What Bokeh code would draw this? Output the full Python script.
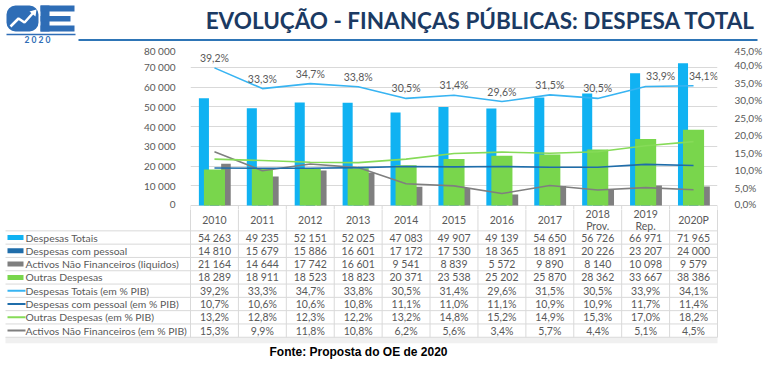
from bokeh.plotting import figure
from bokeh.models import Range1d, LinearAxis, FixedTicker, FactorRange, ColumnDataSource
from bokeh.embed import file_html
from bokeh.resources import INLINE
from bokeh.core.properties import value
from bokeh.transform import dodge

# ---------------- data ----------------
years = ["2010", "2011", "2012", "2013", "2014", "2015", "2016", "2017",
         "2018 Prov.", "2019 Rep.", "2020P"]
year_labels = ["2010", "2011", "2012", "2013", "2014", "2015", "2016", "2017",
               "2018\nProv.", "2019\nRep.", "2020P"]
desp_totais = [54263, 49235, 52151, 52025, 47083, 49907, 49139, 54650, 56726, 66971, 71965]
desp_pessoal = [14810, 15679, 15886, 16601, 17172, 17530, 18365, 18891, 20226, 23207, 24000]
activos = [21164, 14644, 17742, 16601, 9541, 8839, 5572, 9890, 8140, 10098, 9579]
outras = [18289, 18911, 18523, 18823, 20371, 23538, 25202, 25870, 28362, 33667, 38386]
pct_totais = [39.2, 33.3, 34.7, 33.8, 30.5, 31.4, 29.6, 31.5, 30.5, 33.9, 34.1]
pct_pessoal = [10.7, 10.6, 10.6, 10.8, 11.1, 11.0, 11.1, 10.9, 10.9, 11.7, 11.4]
pct_outras = [13.2, 12.8, 12.3, 12.2, 13.2, 14.8, 15.2, 14.9, 15.3, 17.0, 18.2]
pct_activos = [15.3, 9.9, 11.8, 10.8, 6.2, 5.6, 3.4, 5.7, 4.4, 5.1, 4.5]
left_ticks = [0, 10000, 20000, 30000, 40000, 50000, 60000, 70000, 80000]
right_ticks = [0, 5, 10, 15, 20, 25, 30, 35, 40, 45]

row_names = ["Despesas Totais", "Despesas com pessoal",
             "Activos Não Financeiros (liquidos)", "Outras Despesas",
             "Despesas Totais (em % PIB)", "Despesas com pessoal (em % PIB)",
             "Outras Despesas (em % PIB)", "Activos Não Financeiros (em % PIB)"]

# ---------------- style ----------------
BLUE = "#10B2F2"
DKBLUE = "#1F6DAA"
GRAY = "#7F7F7F"
GREEN = "#79D64C"
L_BLUE = "#38B4F2"
L_GREEN = "#86DB58"
TXT = "#595959"
GRID = "#D9D9D9"
NAVY = "#1B3A63"
LOGO = "#2E6DB6"
FONT = "Lato"

W = 765
PL = 190            # plot left (page x)
PR = 48             # right border (plot right at page x 717)
CW = (W - PL - PR) / len(years)
Y_TOP, Y_ZERO, Y_BOT = 47, 205, 209   # chart frame in page y
PXU = 80000 / (Y_ZERO - Y_TOP)        # value units per pixel
PXP = 45 / (Y_ZERO - Y_TOP)


def fmt_num(v):
    return f"{v:,}".replace(",", " ")


def fmt_pct(v):
    return f"{v:.1f}".replace(".", ",") + "%"


def bare(fig):
    fig.outline_line_color = None
    fig.xgrid.visible = False
    fig.ygrid.visible = False
    return fig


# ---------------- header (page coords, y negated) ----------------
h = bare(figure(width=W, height=44, x_range=Range1d(0, W), y_range=Range1d(-44, 0),
                output_backend="svg", toolbar_location=None,
                x_axis_location=None, y_axis_location=None, min_border=0))
h.quad(left=6, right=38, top=-5, bottom=-31, fill_color=LOGO, line_color=None, border_radius=9)
h.line(x=[10, 18, 24, 33], y=[-26, -18, -22, -12], line_color="white", line_width=2.5)
h.patch(x=[29, 36, 35], y=[-11, -9, -16], fill_color="white", line_color=None)
h.quad(left=40, right=49, top=-5, bottom=-31, fill_color=LOGO, line_color=None)
h.quad(left=[40, 40, 40], right=[74, 70, 74], top=[-5, -15.5, -25], bottom=[-11, -21, -31],
       fill_color=LOGO, line_color=None)
h.line(x=[6, 75], y=[-34, -34], line_color=LOGO, line_width=1.5)
h.line(x=[78, 757], y=[-39.5, -39.5], line_color="#2E75B6", line_width=2)
h.text(x=[755], y=[-20], text=["EVOLUÇÃO - FINANÇAS PÚBLICAS: DESPESA TOTAL"],
       text_font=value(FONT), text_font_style="bold", text_font_size="22.5px",
       text_color=NAVY, text_align="right", text_baseline="middle")
h.text(x=[40], y=[-39.5], text=["2  0  2  0"],
       text_font=value(FONT), text_font_style="bold", text_font_size="8.5px",
       text_color=LOGO, text_align="center", text_baseline="middle")

# ---------------- chart ----------------
src = ColumnDataSource(dict(
    year=years, totais=desp_totais, pessoal=desp_pessoal, activos=activos, outras=outras,
    p_tot=pct_totais, p_pes=pct_pessoal, p_out=pct_outras, p_act=pct_activos,
    lbl=[fmt_pct(v) for v in pct_totais],
))
n = len(years)

p = figure(width=W, height=Y_BOT - 44, x_range=FactorRange(*years, range_padding=0),
           y_range=Range1d(-(Y_BOT - Y_ZERO) * PXU, 80000), output_backend="svg",
           toolbar_location=None, x_axis_location=None, min_border_left=PL,
           min_border_right=PR, min_border_top=Y_TOP - 44, min_border_bottom=0)
p.outline_line_color = None
p.xgrid.grid_line_color = None
p.ygrid.ticker = FixedTicker(ticks=left_ticks)
p.ygrid.grid_line_color = GRID
p.extra_y_ranges = {"pct": Range1d(-(Y_BOT - Y_ZERO) * PXP, 45)}

ya = p.yaxis[0]
ya.ticker = FixedTicker(ticks=left_ticks)
ya.major_label_overrides = {t: fmt_num(t) for t in left_ticks}
ra = LinearAxis(y_range_name="pct", ticker=FixedTicker(ticks=right_ticks))
ra.major_label_overrides = {t: fmt_pct(t) for t in right_ticks}
p.add_layout(ra, "right")
for ax, so in ((ya, 9), (ra, 11)):
    ax.axis_line_color = None
    ax.major_tick_line_color = None
    ax.minor_tick_line_color = None
    ax.major_label_standoff = so
    ax.major_label_text_font = FONT
    ax.major_label_text_font_size = "10px"
    ax.major_label_text_color = TXT

# table column dividers continuing down from the baseline
p.multi_line(xs=[[k, k] for k in range(n + 1)],
             ys=[[0, -(Y_BOT - Y_ZERO) * PXU] for _ in range(n + 1)],
             line_color=GRID, line_width=1)

p.vbar(x=dodge("year", -0.22, range=p.x_range), top="totais", width=0.21, source=src,
       fill_color=BLUE, line_color=None)
p.vbar(x=dodge("year", 0.24, range=p.x_range), top="activos", width=0.2, source=src,
       fill_color=GRAY, line_color=None)
p.vbar(x=dodge("year", 0.0, range=p.x_range), top="pessoal", width=0.2, source=src,
       fill_color=DKBLUE, line_color=None)
p.vbar(x=dodge("year", 0.0, range=p.x_range), top="outras", width=0.44, source=src,
       fill_color=GREEN, line_color=None)

p.line(x="year", y="p_act", y_range_name="pct", source=src, line_color=GRAY, line_width=1.6)
p.line(x="year", y="p_out", y_range_name="pct", source=src, line_color=L_GREEN, line_width=1.6)
p.line(x="year", y="p_pes", y_range_name="pct", source=src, line_color=DKBLUE, line_width=1.6)
p.line(x="year", y="p_tot", y_range_name="pct", source=src, line_color=L_BLUE, line_width=1.6)

src.data["lbl_dx"] = [0] * (n - 2) + [15, 10]
p.text(x="year", y="p_tot", text="lbl", y_range_name="pct", source=src,
       x_offset="lbl_dx", y_offset=-10, text_font=value(FONT), text_font_size="10.5px",
       text_color=TXT, text_align="center", text_baseline="middle")

# ---------------- table ----------------
RH = 13.3
R0 = 237            # page y of first data row centre
T_TOP, T_BOT = Y_BOT, 345
t = bare(figure(width=W, height=T_BOT - T_TOP, x_range=Range1d(-PL / CW, (W - PL) / CW),
                y_range=Range1d(-(T_BOT - R0) / RH, (R0 - T_TOP) / RH),
                output_backend="svg", toolbar_location=None,
                x_axis_location=None, y_axis_location=None, min_border=0))

nrows = len(row_names)
x_pg = lambda px: (px - PL) / CW
t.quad(left=x_pg(5), right=n, top=-(nrows - 0.5), bottom=-(nrows - 0.5) - 0.45,
       fill_color="#F0F0F0", line_color=None)
t.multi_line(xs=[[x_pg(5), n] for _ in range(nrows + 1)],
             ys=[[0.5 - k, 0.5 - k] for k in range(nrows + 1)], line_color=GRID, line_width=1)
t.multi_line(xs=[[k, k] for k in range(n + 1)],
             ys=[[3, -(nrows - 0.5)] for _ in range(n + 1)], line_color=GRID, line_width=1)

t.text(x=[i + 0.5 for i in range(n)], y=[1.3] * n, text=year_labels,
       text_font=value(FONT), text_font_size="10.5px", text_color=TXT,
       text_align="center", text_baseline="middle", text_line_height=1.0)

series = [desp_totais, desp_pessoal, activos, outras,
          pct_totais, pct_pessoal, pct_outras, pct_activos]
cx, cy, ct = [], [], []
for r, vals in enumerate(series):
    for i, v in enumerate(vals):
        cx.append(i + 0.5)
        cy.append(-r)
        ct.append(fmt_num(v) if r < 4 else fmt_pct(v))
t.text(x=cx, y=cy, text=ct, text_font=value(FONT), text_font_size="10.5px",
       text_color=TXT, text_align="center", text_baseline="middle")

t.text(x=[x_pg(25)] * nrows, y=[-r for r in range(nrows)], text=row_names,
       text_font=value(FONT), text_font_size="10.4px", text_color=TXT,
       text_align="left", text_baseline="middle")

bar_cols = [BLUE, DKBLUE, GRAY, GREEN]
t.rect(x=[x_pg(15)] * 4, y=[0, -1, -2, -3], width=16, height=5, width_units="screen",
       height_units="screen", fill_color=bar_cols, line_color=None)
line_cols = [L_BLUE, DKBLUE, L_GREEN, GRAY]
t.multi_line(xs=[[x_pg(7), x_pg(25)] for _ in range(4)],
             ys=[[-r, -r] for r in range(4, 8)], line_color=line_cols, line_width=2)

# ---------------- footer ----------------
f = bare(figure(width=W, height=368 - T_BOT, x_range=Range1d(0, W), y_range=Range1d(-368, -T_BOT),
                output_backend="svg", toolbar_location=None, x_axis_location=None,
                y_axis_location=None, min_border=0))
f.text(x=[358], y=[-351.5], text=["Fonte: Proposta do OE de 2020"],
       text_font=value("Liberation Sans"), text_font_style="bold", text_font_size="12px",
       text_color="black", text_align="center", text_baseline="middle")

open("out.html", "w").write(file_html([h, p, t, f], INLINE))
